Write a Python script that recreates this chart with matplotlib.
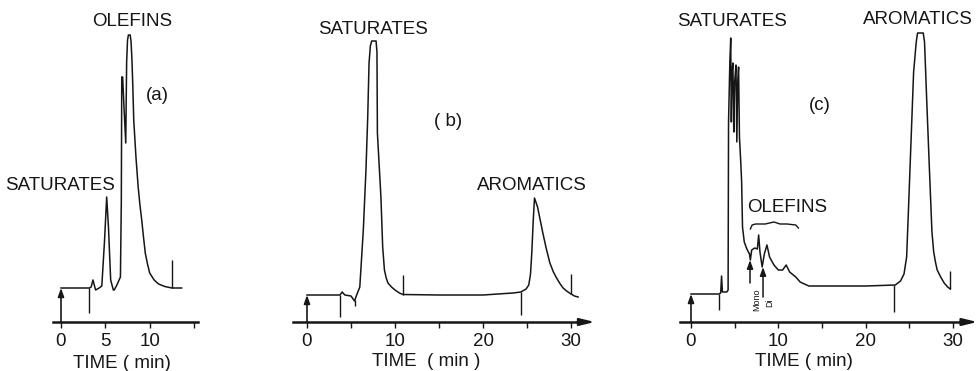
import matplotlib
matplotlib.use("Agg")
import matplotlib.pyplot as plt

plt.rcParams['font.family'] = ['Liberation Sans', 'DejaVu Sans']

# ---------------- data (time in min, detector response in arbitrary units) -------------
time_a = [0, 3.2, 3.4, 3.6, 3.9, 4.3, 4.6, 4.9, 5.15, 5.35, 5.6, 5.9, 6.0, 6.3, 6.7, 6.8, 6.85,
          6.95, 7.1, 7.3, 7.4, 7.5, 7.6, 7.8, 7.9, 8.0, 8.1, 8.2, 8.45, 8.7, 8.9, 9.1, 9.3, 9.5,
          9.75, 10.0, 10.5, 11.0, 11.7, 12.5, 13.6]
signal_a = [34, 34, 35, 42, 32, 34, 36, 80, 125, 95, 42, 32, 32, 37, 45, 120, 245,
            245, 215, 179, 260, 282, 287, 287, 280, 262, 235, 202, 165, 135, 117, 102, 85, 69,
            58, 49, 42, 38, 35.5, 34, 34]
marks_a_t = [3.2, 12.5]
marks_a_lo = [9, 34]
marks_a_hi = [34, 62]

time_b = [0, 3.75, 4.0, 4.3, 5.0, 5.4, 5.6, 6.0, 6.4, 6.7, 6.9, 7.05, 7.2, 7.35, 7.85, 7.95, 8.0,
          8.4, 8.6, 8.8, 9.0, 9.2, 9.6, 10.0, 10.5, 10.9, 15, 20, 23.4, 24.3, 24.9, 25.2, 25.4,
          25.55, 25.7, 25.85, 26.2, 26.5, 26.8, 27.2, 27.6, 28.0, 28.3, 28.7, 29.1, 29.5, 30.0,
          30.4, 30.8]
signal_b = [27, 27, 30, 27, 26, 21, 26, 35, 92, 152, 205, 259, 276, 281, 281, 270, 189,
            125, 75, 52, 44, 39, 35, 32, 29, 27.5, 27, 27, 29, 30, 33, 37, 48,
            70, 100, 124, 115, 102, 89, 73, 59, 50, 45, 39, 34, 31, 28,
            26, 25]
marks_b_t = [3.75, 5.5, 10.9, 24.3, 30.0]
marks_b_lo = [5, 16, 27, 7, 28]
marks_b_hi = [27, 22, 47, 30, 48]

time_c = [0, 3.2, 3.4, 3.5, 3.6, 4.1, 4.25, 4.3, 4.45, 4.55, 4.62, 4.7, 4.8, 4.9, 5.0, 5.15,
          5.25, 5.35, 5.45, 5.55, 5.7, 5.8, 5.9, 6.1, 6.4, 6.7, 6.8, 6.95, 7.3, 7.6, 7.75, 7.9,
          8.15, 8.4, 8.7, 9.0, 9.5, 10.0, 10.5, 10.9, 11.3, 12.0, 12.5, 13.5, 15, 20, 23.4,
          24.0, 24.4, 24.7, 24.9, 25.2, 25.5, 25.8, 25.95, 26.6, 26.75, 27.0, 27.3, 27.6, 27.8,
          28.0, 28.2, 28.6, 29.0, 29.4, 29.7]
signal_c = [28, 28, 29, 46, 30, 30, 32, 200, 260, 284, 200, 250, 259, 190, 240, 257,
            180, 240, 255, 185, 160, 140, 95, 80, 73, 68, 62, 72, 74, 73, 87, 70,
            55, 68, 77, 65, 57, 52, 52, 57, 50, 45, 40, 36, 36, 36, 37,
            41, 48, 65, 110, 180, 250, 280, 289, 289, 280, 222, 155, 90, 70,
            60, 52, 45, 39, 35, 33]
marks_c_t = [3.2, 23.3, 29.7]
marks_c_lo = [12, 10, 33]
marks_c_hi = [28, 37, 51]
olefin_arrows_t = [6.76, 8.25]
olefin_arrows_lo = [39, 25]
olefin_arrows_hi = [62, 55]
olefin_arrow_labels = ['Mono', 'Di']

ticks_a = [0, 5, 10, 15]
ticklabels_a = ['0', '5', '10', '']
ticks_bc = [0, 5, 10, 15, 20, 25, 30]
ticklabels_bc = ['0', '', '10', '', '20', '', '30']

# ---------------- figure -------------
W, H = 977, 371
fig = plt.figure(figsize=(W / 100, H / 100), dpi=100)
AXIS_Y = 322  # pixel row of the time axis

INK = '#161616'
FS = 13.5


def make_axes(px0, px1, t0_px, scale):
    ax = fig.add_axes([px0 / W, 0, (px1 - px0) / W, 1])
    ax.set_xlim((px0 - t0_px) / scale, (px1 - t0_px) / scale)
    ax.set_ylim(AXIS_Y - H, AXIS_Y)
    ax.patch.set_visible(False)
    for s in ['left', 'right', 'top']:
        ax.spines[s].set_visible(False)
    ax.spines['bottom'].set_position(('data', 0))
    ax.spines['bottom'].set_linewidth(1.8)
    ax.spines['bottom'].set_color(INK)
    ax.set_yticks([])
    ax.tick_params(axis='x', direction='out', length=4, width=1.0, color=INK,
                   labelsize=FS, pad=4, labelcolor=INK)
    return ax


def trace(ax, t, s, marks_t, lo, hi):
    ax.plot(t, s, color=INK, lw=1.1, solid_joinstyle='round')
    ax.vlines(marks_t, lo, hi, color=INK, lw=1.0)
    ax.annotate('', xy=(0, s[0]), xytext=(0, 0),
                arrowprops=dict(arrowstyle='-|>,head_length=0.5,head_width=0.18',
                                color=INK, lw=1.2, shrinkA=0, shrinkB=0))


def axis_arrow(ax, t_end):
    ax.annotate('', xy=(t_end, 0), xytext=(t_end - 2, 0),
                arrowprops=dict(arrowstyle='-|>,head_length=0.9,head_width=0.22',
                                color=INK, lw=1.5, shrinkA=0, shrinkB=0))


# panel (a)
axa = make_axes(0, 215, 61, 8.87)
axa.spines['bottom'].set_bounds(-0.9, 15.5)
axa.set_xticks(ticks_a, ticklabels_a)
trace(axa, time_a, signal_a, marks_a_t, marks_a_lo, marks_a_hi)
axa.text(8.0, 300, 'OLEFINS', ha='center', va='center', fontsize=FS, color=INK)
axa.text(10.9, 227, '(a)', ha='center', va='center', fontsize=FS, color=INK)
axa.text(-0.1, 137, 'SATURATES', ha='center', va='center', fontsize=FS, color=INK)
axa.text(6.9, -41, 'TIME ( min)', ha='center', va='center', fontsize=FS, color=INK)

# panel (b)
axb = make_axes(225, 650, 307, 8.8)
axb.spines['bottom'].set_bounds(-1.6, 31.5)
axis_arrow(axb, 32.7)
axb.set_xticks(ticks_bc, ticklabels_bc)
trace(axb, time_b, signal_b, marks_b_t, marks_b_lo, marks_b_hi)
axb.text(7.5, 292, 'SATURATES', ha='center', va='center', fontsize=FS, color=INK)
axb.text(16.0, 200, '( b)', ha='center', va='center', fontsize=FS, color=INK)
axb.text(25.6, 137, 'AROMATICS', ha='center', va='center', fontsize=FS, color=INK)
axb.text(13.6, -40, 'TIME  ( min )', ha='center', va='center', fontsize=FS, color=INK)

# panel (c)
axc = make_axes(655, 977, 691, 8.73)
axc.spines['bottom'].set_bounds(-1.26, 31.5)
axis_arrow(axc, 32.8)
axc.set_xticks(ticks_bc, ticklabels_bc)
trace(axc, time_c, signal_c, marks_c_t, marks_c_lo, marks_c_hi)
for t, lo, hi, lab, dx, dy in zip(olefin_arrows_t, olefin_arrows_lo, olefin_arrows_hi,
                                  olefin_arrow_labels, [0.8, 0.8], [22, 19]):
    axc.annotate('', xy=(t, hi), xytext=(t, lo),
                 arrowprops=dict(arrowstyle='-|>,head_length=0.5,head_width=0.18',
                                 color=INK, lw=1.1, shrinkA=0, shrinkB=0))
    axc.text(t + dx, dy, lab, rotation=90, ha='center', va='center', fontsize=6.5, color=INK)
axc.text(4.7, 301, 'SATURATES', ha='center', va='center', fontsize=FS, color=INK)
axc.text(26.0, 302, 'AROMATICS', ha='center', va='center', fontsize=FS, color=INK)
axc.text(14.8, 217, '(c)', ha='center', va='center', fontsize=FS, color=INK)
axc.text(11.0, 114, 'OLEFINS', ha='center', va='center', fontsize=FS, color=INK)
# brace over the olefin region
brace_t = [6.8, 7.0, 7.4, 8.5, 9.5, 10.2, 11.0, 12.0, 12.3]
brace_s = [93, 97, 98, 98, 100, 98, 98, 97, 94]
axc.plot(brace_t, brace_s, color=INK, lw=1.0)
axc.text(12.9, -40, 'TIME ( min)', ha='center', va='center', fontsize=FS, color=INK)

fig.savefig('out.png', dpi=100)
